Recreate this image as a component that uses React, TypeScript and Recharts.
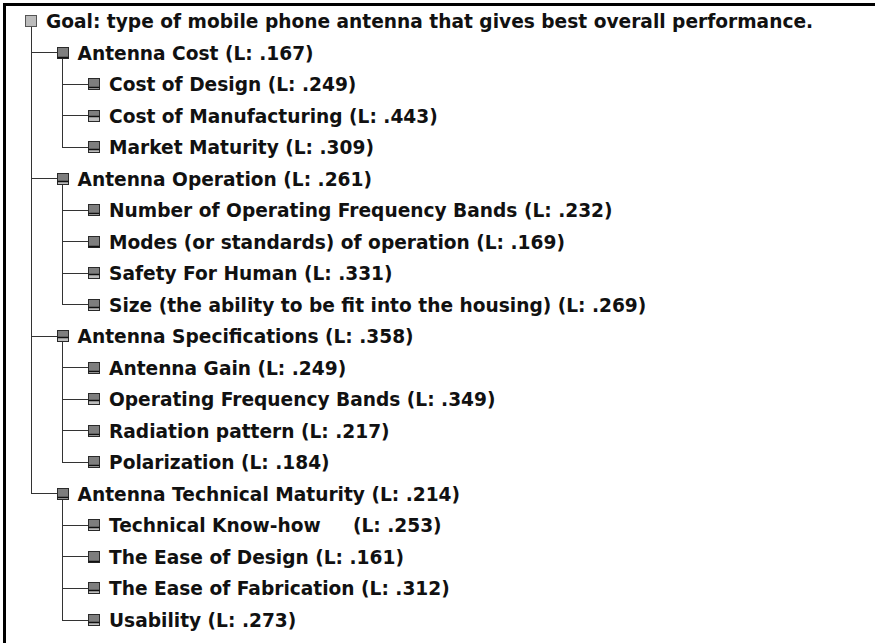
import React from 'react';
import { ScatterChart, Scatter, XAxis, YAxis } from 'recharts';

const nodeNames = [
  'Goal: type of mobile phone antenna that gives best overall performance.',
  'Antenna Cost',
  'Cost of Design',
  'Cost of Manufacturing',
  'Market Maturity',
  'Antenna Operation',
  'Number of Operating Frequency Bands',
  'Modes (or standards) of operation',
  'Safety For Human',
  'Size (the ability to be fit into the housing)',
  'Antenna Specifications',
  'Antenna Gain',
  'Operating Frequency Bands',
  'Radiation pattern',
  'Polarization',
  'Antenna Technical Maturity',
  'Technical Know-how    ',
  'The Ease of Design',
  'The Ease of Fabrication',
  'Usability',
];

const nodeLevels = [0, 1, 2, 2, 2, 1, 2, 2, 2, 2, 1, 2, 2, 2, 2, 1, 2, 2, 2, 2];

const localWeights: (number | null)[] = [
  null, 0.167, 0.249, 0.443, 0.309, 0.261, 0.232, 0.169, 0.331, 0.269,
  0.358, 0.249, 0.349, 0.217, 0.184, 0.214, 0.253, 0.161, 0.312, 0.273,
];

const fmt = (w: number) => '.' + Math.round(w * 1000).toString().padStart(3, '0');

const nodes = nodeNames.map((name, i) => ({
  x: nodeLevels[i],
  y: i,
  level: nodeLevels[i],
  weight: localWeights[i],
  label: localWeights[i] == null ? name : `${name} (L: ${fmt(localWeights[i] as number)})`,
}));

const parentOf = (i: number) => {
  for (let j = i - 1; j >= 0; j--) if (nodeLevels[j] === nodeLevels[i] - 1) return j;
  return -1;
};

const edges = nodes.slice(1).map((n, k) => {
  const i = k + 1;
  const p = parentOf(i);
  return [
    { x: nodeLevels[p], y: p },
    { x: nodeLevels[p], y: i },
    { x: nodeLevels[i], y: i },
  ];
});

const NodeShape = (props: any) => {
  const { cx, cy } = props;
  const p = props.payload ?? props;
  const s = 12;
  const x0 = Math.round(cx - s / 2) + 0.5;
  const y0 = Math.round(cy - s / 2) + 0.5;
  let icon;
  if (p.level === 0) {
    icon = <rect x={x0} y={y0} width={s - 1} height={s - 1} fill="#bcbcbc" stroke="#555" strokeWidth={1} />;
  } else {
    const w = p.weight as number;
    const band = Math.max(0, Math.min(6, Math.round((w - 0.15) * 15)));
    const bottom = y0 + s - 1;
    icon = (
      <g>
        <rect x={x0} y={y0} width={s - 1} height={s - 1} fill="#7e7e7e" stroke="#2a2a2a" strokeWidth={1} />
        {band > 0 && (
          <rect x={x0 + 0.5} y={bottom - band - 0.5} width={s - 2} height={band} fill="#bdbdbd" />
        )}
        <line x1={x0} x2={x0 + s - 1} y1={bottom - band - 1} y2={bottom - band - 1} stroke="#111" strokeWidth={1.5} />
      </g>
    );
  }
  return (
    <g>
      {icon}
      <text
        x={cx + 15}
        y={cy + 7}
        fontFamily="'DejaVu Sans', Verdana, sans-serif"
        fontWeight="bold"
        fontSize={18.6}
        fill="#111"
        style={{ whiteSpace: 'pre' }}
      >
        {p.label}
      </text>
    </g>
  );
};

const Empty = () => <g />;

export default function App() {
  return (
    <div style={{ position: 'absolute', left: 0, top: 0, width: 875, height: 643, background: '#fff' }}>
      <div
        style={{
          position: 'absolute',
          left: 3,
          top: 3,
          right: 0,
          bottom: 0,
          borderTop: '3px solid #000',
          borderLeft: '3px solid #000',
        }}
      />
      <div style={{ position: 'absolute', left: 0, top: 0 }}>
        <ScatterChart width={875} height={643} margin={{ top: 21, right: 781, bottom: 23, left: 31 }}>
          <XAxis type="number" dataKey="x" domain={[0, 2]} hide />
          <YAxis type="number" dataKey="y" domain={[0, 19]} reversed hide />
          {edges.map((e, i) => (
            <Scatter
              key={'e' + i}
              data={e}
              line={{ stroke: '#333', strokeWidth: 1, shapeRendering: 'crispEdges' }}
              shape={Empty}
              isAnimationActive={false}
            />
          ))}
          <Scatter data={nodes} shape={NodeShape} isAnimationActive={false} />
        </ScatterChart>
      </div>
    </div>
  );
}
